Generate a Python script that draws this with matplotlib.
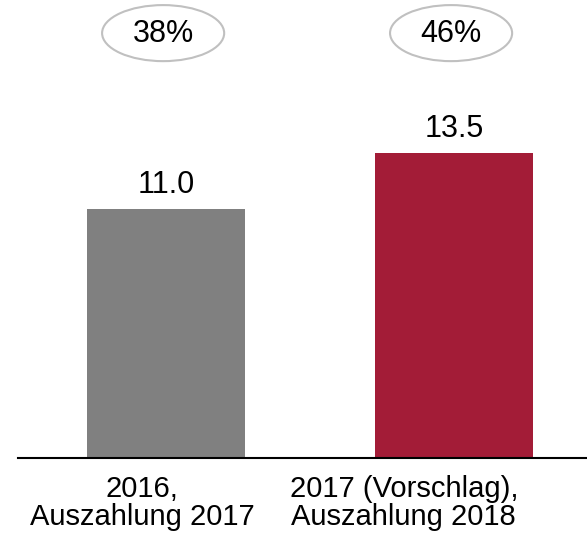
import matplotlib.pyplot as plt
from matplotlib.patches import Ellipse

# Werte
categories = ["2016,\nAuszahlung 2017", "2017 (Vorschlag),\nAuszahlung 2018"]
values = [11.0, 13.5]
value_labels = ["11.0", "13.5"]
shares = ["38%", "46%"]
colors = ["#808080", "#A31C37"]

plt.rcParams['font.family'] = ['Liberation Sans', 'DejaVu Sans']

fig = plt.figure(figsize=(5.87, 5.52), dpi=100)
ax = fig.add_axes([18 / 587, (552 - 458) / 552, (587 - 18) / 587, 458 / 552])

x = list(range(len(values)))
ax.bar(x, values, width=0.549, color=colors)

for xi, v, lab in zip(x, values, value_labels):
    ax.annotate(lab, (xi, v), xytext=(0, 11.5), textcoords="offset points",
                ha="center", va="baseline", fontsize=22)

for xi, s in zip(x, shares):
    ax.add_patch(Ellipse((xi - 0.01, 18.8), 0.424, 2.48, facecolor="white",
                         edgecolor="#c0c0c0", linewidth=1.5, clip_on=False))
    ax.text(xi - 0.01, 18.75, s, ha="center", va="center", fontsize=22)

# Kategorien (leicht nach links versetzt wie im Original)
label_x = [-0.083, 0.826]
for lx, cat in zip(label_x, categories):
    ax.text(lx, -0.75, cat, ha="center", va="top", fontsize=21, linespacing=1.02)

ax.set_xlim(-0.514, 1.462)
ax.set_ylim(0, 458 / 22.6)
ax.set_xticks([])
ax.set_yticks([])
for side in ["top", "right", "left"]:
    ax.spines[side].set_visible(False)
ax.spines["bottom"].set_linewidth(1.5)

fig.savefig("out.png", dpi=100)
